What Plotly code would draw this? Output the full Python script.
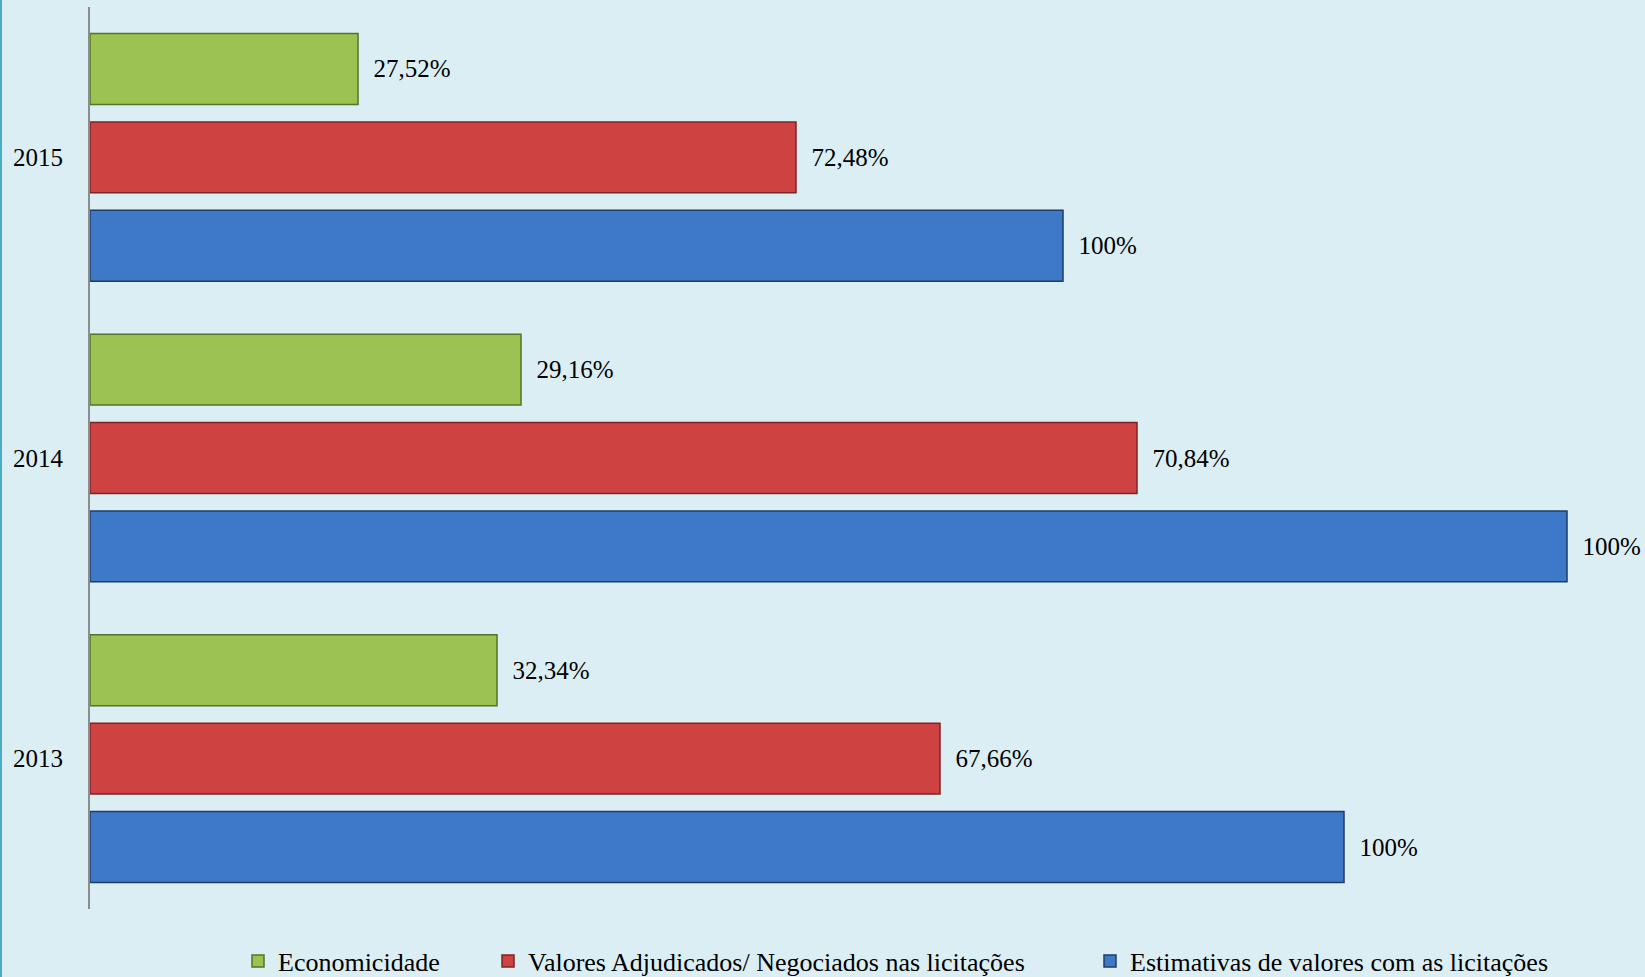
import plotly.graph_objects as go

# Data (bar lengths, arbitrary units; labels are the printed percentages)
anos = ["2013", "2014", "2015"]
economicidade = [407, 431, 268]
adjudicados = [850, 1047, 706]
estimativas = [1254, 1477, 973]
rot_economicidade = ["32,34%", "29,16%", "27,52%"]
rot_adjudicados = ["67,66%", "70,84%", "72,48%"]
rot_estimativas = ["100%", "100%", "100%"]

nomes = [
    "Economicidade",
    "Valores Adjudicados/ Negociados nas licitações",
    "Estimativas de valores com as licitações",
]

FONT = "Liberation Serif, Times New Roman, serif"
BG = "#DBEEF4"
PAD = "\u00a0\u00a0"

fig = go.Figure()
# order: blue (bottom of group), red, green (top of group)
series = [
    (nomes[2], estimativas, rot_estimativas, "#3D79C6", "#1F3C68", 430),
    (nomes[1], adjudicados, rot_adjudicados, "#CE4242", "#7E2424", 557),
    (nomes[0], economicidade, rot_economicidade, "#9CC252", "#55722A", 205),
]
for nome, vals, rots, cor, borda, lw in series:
    fig.add_trace(go.Bar(
        y=anos, x=vals, name=nome, orientation="h",
        marker=dict(color=cor, line=dict(color=borda, width=1.5)),
        text=[PAD + r for r in rots], textposition="outside",
        textfont=dict(family=FONT, size=25, color="black"),
        cliponaxis=False, legendwidth=lw,
    ))

fig.update_layout(
    width=1645, height=977,
    paper_bgcolor=BG, plot_bgcolor=BG,
    margin=dict(l=90, r=45, t=7, b=68),
    barmode="group", bargap=0.118, bargroupgap=0.198,
    font=dict(family=FONT, size=25, color="black"),
    showlegend=True,
    legend=dict(
        orientation="h", traceorder="reversed",
        xref="container", yref="container",
        x=238 / 1645, xanchor="left",
        y=1 - 961 / 977, yanchor="middle",
        font=dict(family=FONT, size=26, color="black"),
        bgcolor="rgba(0,0,0,0)",
    ),
    xaxis=dict(range=[0, 1510], showgrid=False, zeroline=False,
               showticklabels=False, showline=False, ticks=""),
    yaxis=dict(type="category", range=[-0.5, 2.5], showgrid=False,
               showline=True, linecolor="#8C8C8C", linewidth=2,
               ticks="", ticklabelstandoff=20,
               tickfont=dict(family=FONT, size=25, color="black")),
    shapes=[dict(type="line", xref="paper", yref="paper",
                 x0=(1 - 90) / 1510, x1=(1 - 90) / 1510,
                 y0=-68 / 902, y1=1 + 7 / 902,
                 line=dict(color="#4BACC6", width=2))],
)

fig.write_html(
    "out.html",
    config={"displayModeBar": False},
    post_script="document.body.style.margin='0';document.body.style.overflow='hidden';",
)
